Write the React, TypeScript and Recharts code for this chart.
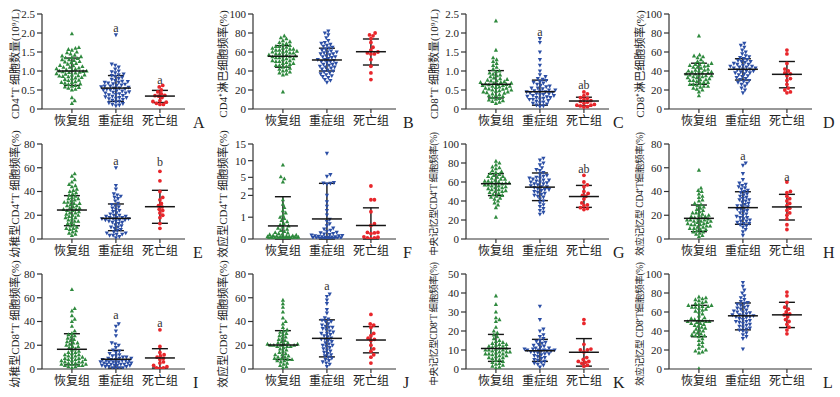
import React from 'react';
import { ScatterChart, Scatter, XAxis, YAxis, ErrorBar } from 'recharts';

const GROUPS = ['恢复组', '重症组', '死亡组'];
const COLORS = ['#2f8a3e', '#2b4ea5', '#e8262b'];

// A  CD4+T count
const aRecovery = [1.98, 1.62, 1.6, 1.57, 1.55, 1.5, 1.48, 1.45, 1.42, 1.4, 1.38, 1.35, 1.33, 1.3, 1.3, 1.28, 1.25, 1.22, 1.2, 1.18, 1.15, 1.12, 1.1, 1.1, 1.08, 1.05, 1.03, 1.0, 1.0, 0.98, 0.97, 0.95, 0.93, 0.92, 0.9, 0.88, 0.87, 0.85, 0.83, 0.82, 0.8, 0.78, 0.76, 0.75, 0.72, 0.7, 0.68, 0.66, 0.65, 0.62, 0.6, 0.58, 0.57, 0.55, 0.52, 0.5, 1.02, 1.06, 0.96, 1.14, 1.24, 0.9, 0.99, 1.36, 0.7, 0.86, 0.3, 0.22, 0.15];
const aSevere = [1.95, 1.18, 1.15, 1.1, 1.05, 1.0, 0.98, 0.95, 0.92, 0.9, 0.88, 0.85, 0.83, 0.8, 0.78, 0.75, 0.73, 0.72, 0.7, 0.68, 0.66, 0.65, 0.63, 0.62, 0.6, 0.58, 0.57, 0.55, 0.55, 0.53, 0.52, 0.5, 0.48, 0.47, 0.45, 0.44, 0.42, 0.4, 0.38, 0.37, 0.35, 0.33, 0.32, 0.3, 0.28, 0.27, 0.25, 0.23, 0.2, 0.18, 0.16, 0.14, 0.12, 0.1, 0.08, 0.6, 0.7, 0.5, 0.42, 0.3];
const aDeath = [0.62, 0.58, 0.5, 0.45, 0.4, 0.36, 0.35, 0.34, 0.3, 0.22, 0.2, 0.18, 0.15, 0.12, 0.12];
const aMean = [1.0, 0.55, 0.34];
const aHigh = [1.34, 0.88, 0.49];
const aLow = [0.62, 0.2, 0.17];

// B  CD4+ lymphocyte %
const bRecovery = [77, 75, 74, 72, 71, 70, 69, 68, 67, 66, 65, 64, 63, 62, 62, 61, 60, 60, 59, 58, 58, 57, 56, 56, 55, 55, 54, 53, 53, 52, 51, 50, 50, 49, 48, 47, 46, 45, 44, 43, 42, 41, 40, 39, 38, 37, 36, 63, 59, 57, 54, 51, 48, 46, 64, 66, 61, 18];
const bSevere = [82, 80, 78, 75, 72, 70, 69, 68, 67, 66, 65, 64, 63, 62, 61, 60, 59, 58, 57, 56, 55, 54, 53, 52, 52, 51, 50, 49, 48, 47, 46, 45, 44, 43, 42, 41, 40, 39, 38, 37, 36, 35, 34, 33, 31, 30, 28, 55, 50, 47, 44, 58, 60];
const bDeath = [80, 78, 77, 74, 70, 65, 62, 60, 59, 58, 58, 52, 45, 38, 31];
const bMean = [55.5, 51.6, 60.3];
const bHigh = [66.7, 64, 73.7];
const bLow = [44, 40, 46.3];

// C  CD8+T count
const cRecovery = [2.32, 1.55, 1.35, 1.3, 1.25, 1.2, 1.15, 1.1, 1.05, 1.0, 0.98, 0.95, 0.92, 0.9, 0.88, 0.85, 0.82, 0.8, 0.78, 0.76, 0.74, 0.72, 0.7, 0.68, 0.66, 0.65, 0.64, 0.62, 0.6, 0.58, 0.57, 0.55, 0.53, 0.52, 0.5, 0.48, 0.47, 0.45, 0.43, 0.42, 0.4, 0.38, 0.36, 0.35, 0.33, 0.3, 0.28, 0.26, 0.24, 0.22, 0.2, 0.18, 0.15, 0.6, 0.55, 0.7, 0.65, 0.5, 0.45, 0.62, 0.75, 0.68];
const cSevere = [1.85, 1.75, 1.5, 1.3, 1.15, 1.0, 0.9, 0.85, 0.8, 0.78, 0.75, 0.72, 0.7, 0.68, 0.65, 0.62, 0.6, 0.58, 0.55, 0.53, 0.5, 0.48, 0.47, 0.45, 0.44, 0.42, 0.4, 0.38, 0.37, 0.35, 0.33, 0.32, 0.3, 0.28, 0.26, 0.25, 0.22, 0.2, 0.18, 0.16, 0.15, 0.13, 0.1, 0.08, 0.06, 0.45, 0.4, 0.5, 0.35, 0.3, 0.55, 0.25];
const cDeath = [0.45, 0.4, 0.35, 0.3, 0.28, 0.25, 0.22, 0.2, 0.18, 0.15, 0.12, 0.1, 0.1, 0.08, 0.06, 0.05];
const cMean = [0.65, 0.455, 0.21];
const cHigh = [1.01, 0.76, 0.31];
const cLow = [0.29, 0.1, 0.08];

// D  CD8+ lymphocyte %
const dRecovery = [77, 57, 56, 55, 54, 52, 50, 49, 48, 47, 46, 45, 44, 43, 42, 41, 40, 40, 39, 38, 38, 37, 36, 36, 35, 34, 33, 33, 32, 31, 30, 30, 29, 28, 27, 26, 25, 24, 24, 23, 22, 21, 20, 18, 14, 35, 37, 41, 44, 31, 28, 39, 46, 26, 34, 47];
const dSevere = [69, 67, 65, 62, 60, 58, 56, 55, 54, 53, 52, 51, 50, 49, 48, 47, 46, 45, 45, 44, 43, 42, 42, 41, 40, 39, 38, 37, 36, 35, 34, 33, 32, 31, 30, 29, 28, 27, 26, 24, 22, 20, 17, 43, 40, 44, 47, 38, 50];
const dDeath = [62, 58, 48, 42, 40, 38, 37, 35, 32, 30, 26, 22, 20, 18, 17];
const dMean = [36.9, 41.8, 36.5];
const dHigh = [48.2, 52.9, 50];
const dLow = [25.9, 30.5, 22.3];

// E  naive CD4+T %
const eRecovery = [55, 53, 50, 48, 46, 45, 44, 42, 41, 40, 39, 38, 37, 36, 35, 34, 33, 32, 31, 30, 30, 29, 28, 27, 26, 25, 25, 24, 23, 22, 21, 20, 20, 19, 18, 17, 16, 15, 14, 13, 12, 11, 10, 9, 8, 7, 6, 5, 4, 3, 22, 26, 31, 18, 28, 34, 24, 15, 9];
const eSevere = [60, 45, 42, 38, 37, 36, 35, 34, 32, 30, 29, 28, 27, 26, 25, 24, 23, 22, 21, 20, 19, 18, 18, 17, 17, 16, 16, 15, 15, 14, 13, 12, 11, 10, 10, 9, 8, 7, 6, 5, 5, 4, 3, 3, 2, 1, 18, 20, 16, 14, 19, 17, 4];
const eDeath = [57, 49, 40, 35, 33, 30, 28, 27, 25, 24, 22, 20, 18, 13, 9];
const eMean = [24.4, 17.4, 27.2];
const eHigh = [36.5, 29.5, 41];
const eLow = [11.2, 7, 13.2];

// F  effector CD4+T % (broken axis)
const fRecovery = [8.7, 5.2, 4.6, 3.6, 1.8, 1.6, 1.45, 1.3, 1.2, 1.1, 1.0, 0.95, 0.85, 0.8, 0.72, 0.65, 0.6, 0.55, 0.5, 0.45, 0.4, 0.35, 0.3, 0.28, 0.25, 0.22, 0.2, 0.18, 0.16, 0.15, 0.14, 0.13, 0.12, 0.11, 0.1, 0.1, 0.09, 0.08, 0.08, 0.07, 0.07, 0.06, 0.06, 0.05, 0.05, 0.05, 0.04, 0.04, 0.03, 0.03, 0.02, 0.02, 0.01, 0.01];
const fSevere = [12.2, 5.8, 5.3, 3.4, 3.3, 3.2, 3.0, 2.0, 1.7, 1.5, 1.3, 1.1, 0.9, 0.8, 0.7, 0.6, 0.5, 0.45, 0.4, 0.35, 0.3, 0.28, 0.25, 0.22, 0.2, 0.18, 0.16, 0.15, 0.14, 0.12, 0.1, 0.1, 0.09, 0.08, 0.07, 0.06, 0.05, 0.05, 0.04, 0.03, 0.03, 0.02, 0.02, 0.01];
const fDeath = [2.4, 1.8, 1.8, 1.25, 0.7, 0.62, 0.3, 0.3, 0.28, 0.25, 0.1, 0.08, 0.05, 0.05, 0.02];
const fMean = [0.6, 0.92, 0.62];
const fHigh = [1.94, 3.2, 1.43];
const fLow = [0, 0, 0];

// G  central memory CD4+T %
const gRecovery = [82, 80, 78, 76, 75, 74, 72, 71, 70, 69, 68, 67, 66, 65, 64, 63, 62, 61, 60, 60, 59, 58, 58, 57, 56, 56, 55, 54, 53, 52, 51, 50, 49, 48, 47, 46, 45, 44, 43, 42, 40, 38, 36, 33, 23, 57, 61, 54, 63, 59, 50, 66, 52];
const gSevere = [85, 83, 80, 78, 75, 73, 72, 70, 68, 67, 66, 65, 64, 63, 62, 61, 60, 59, 58, 57, 56, 55, 54, 53, 52, 51, 50, 49, 48, 47, 46, 45, 44, 42, 40, 38, 36, 34, 32, 30, 28, 26, 62, 58, 55, 64, 60, 52];
const gDeath = [67, 60, 57, 55, 50, 48, 46, 45, 42, 38, 36, 35, 33, 32, 31];
const gMean = [58.2, 54.6, 44.7];
const gHigh = [68.8, 69.5, 56.4];
const gLow = [45.7, 40.4, 33.3];

// H  effector memory CD4+T %
const hRecovery = [58, 43, 41, 40, 38, 36, 35, 33, 32, 30, 29, 28, 27, 26, 25, 24, 23, 22, 21, 20, 20, 19, 18, 18, 17, 16, 16, 15, 15, 14, 14, 13, 12, 12, 11, 10, 10, 9, 8, 8, 7, 6, 6, 5, 4, 3, 2, 16, 13, 19, 11, 22, 15, 9, 17, 12];
const hSevere = [64, 62, 55, 50, 47, 46, 45, 44, 43, 42, 41, 40, 39, 38, 37, 36, 35, 34, 33, 32, 31, 30, 29, 28, 27, 26, 25, 24, 23, 22, 21, 20, 19, 18, 17, 16, 15, 14, 13, 12, 11, 10, 8, 6, 3, 25, 28, 18, 15, 13, 33];
const hDeath = [48, 40, 39, 36, 34, 32, 30, 28, 26, 24, 22, 20, 17, 12, 8];
const hMean = [17.4, 26.4, 27];
const hHigh = [28.6, 39.8, 37.6];
const hLow = [6.2, 12.4, 16];

// I  naive CD8+T %
const iRecovery = [67, 51, 49, 45, 42, 40, 36, 32, 30, 29, 28, 27, 26, 25, 24, 23, 22, 21, 20, 19, 18, 17, 16, 15, 14, 13, 12, 12, 11, 10, 10, 9, 9, 8, 8, 7, 7, 6, 6, 5, 5, 4, 4, 3, 3, 2, 2, 1, 14, 11, 19, 6, 8, 4, 22, 3];
const iSevere = [38, 36, 32, 28, 22, 21, 20, 18, 16, 15, 14, 13, 12, 11, 10, 10, 9, 9, 8, 8, 8, 7, 7, 7, 6, 6, 6, 5, 5, 5, 4, 4, 4, 3, 3, 3, 2, 2, 2, 1, 1, 1, 0.5, 9, 6, 4, 7, 5, 3, 11];
const iDeath = [33, 19, 14, 12, 11, 10, 9, 8, 6, 5, 3, 2, 1, 1, 0.5];
const iMean = [16.6, 8.2, 9.3];
const iHigh = [29.7, 15.7, 17.1];
const iLow = [3.5, 0.7, 0.8];

// J  effector CD8+T %
const jRecovery = [58, 55, 52, 48, 43, 40, 38, 35, 33, 32, 31, 30, 29, 28, 27, 26, 25, 24, 23, 22, 21, 21, 20, 20, 20, 19, 19, 18, 17, 16, 15, 14, 13, 12, 11, 10, 10, 9, 8, 7, 7, 6, 5, 4, 3, 2, 1, 21, 20, 19, 8, 9, 12, 22];
const jSevere = [63, 61, 58, 55, 50, 47, 43, 42, 41, 40, 38, 37, 36, 35, 34, 33, 32, 31, 30, 29, 28, 27, 26, 25, 24, 23, 22, 21, 20, 19, 18, 17, 16, 15, 14, 13, 12, 11, 10, 9, 8, 7, 6, 5, 4, 2, 30, 25, 20, 35, 40];
const jDeath = [46, 38, 37, 35, 30, 28, 26, 25, 24, 20, 17, 15, 12, 10, 5];
const jMean = [20.2, 25.8, 24.4];
const jHigh = [32.3, 41.4, 35.7];
const jLow = [7.9, 10.2, 13.6];

// K  central memory CD8+T %
const kRecovery = [38.5, 34, 30, 27, 26, 25, 22, 20, 19, 18, 17, 16, 15, 14.5, 14, 13.5, 13, 12.5, 12, 11.5, 11, 10.5, 10, 10, 9.5, 9, 9, 8.5, 8, 8, 7.5, 7, 7, 6.5, 6, 5.5, 5, 4.5, 4, 3.5, 3, 2.5, 2, 1.5, 1, 0.5, 10, 12, 8, 11, 9, 13, 6];
const kSevere = [33, 26, 21, 20, 18, 17, 16, 15, 14.5, 14, 13.5, 13, 12.5, 12, 11.5, 11, 10.5, 10, 10, 10, 9.5, 9.5, 9, 9, 8.5, 8, 7.5, 7, 6.5, 6, 5.5, 5, 4.5, 4, 3.5, 3, 2.5, 2, 1, 10, 10.5, 9.5, 11, 8];
const kDeath = [26, 24, 13, 10.5, 10, 10, 9, 6, 5, 4, 4, 3.5, 3, 2, 1.5];
const kMean = [10.8, 9.6, 8.8];
const kHigh = [18.2, 15.6, 16];
const kLow = [4, 4, 1.5];

// L  effector memory CD8+T %
const lRecovery = [76, 75, 74, 73, 72, 71, 70, 69, 68, 67, 66, 65, 64, 63, 62, 61, 60, 58, 56, 54, 53, 52, 51, 50, 50, 49, 48, 47, 46, 45, 44, 43, 42, 41, 40, 39, 38, 37, 36, 35, 34, 32, 30, 28, 26, 24, 22, 20, 19, 18, 17, 0.5, 50, 52, 48, 66, 67, 35, 65];
const lSevere = [91, 87, 83, 80, 77, 75, 73, 71, 70, 69, 68, 67, 66, 65, 64, 63, 62, 61, 60, 59, 58, 57, 56, 55, 54, 53, 52, 51, 50, 49, 48, 47, 46, 45, 44, 43, 42, 41, 40, 38, 36, 34, 32, 21, 56, 55, 57, 50, 60];
const lDeath = [81, 77, 70, 65, 63, 60, 58, 57, 55, 52, 50, 47, 44, 41, 37];
const lMean = [50.7, 56, 57];
const lHigh = [67, 69.5, 70.2];
const lLow = [34, 41.2, 43.6];

const countTicks = [0, 0.5, 1, 1.5, 2, 2.5];
const pct100Ticks = [0, 20, 40, 60, 80, 100];
const pct80Ticks = [0, 20, 40, 60, 80];
const pct50Ticks = [0, 10, 20, 30, 40, 50];
const fTicks = [0, 1, 2, 5, 10, 15];

// broken axis on F: 0-2 linear, then compressed 2-15 above a small gap
const fBreak = (v: number) => (v <= 2 ? v : 2.37 + (v - 2) * 0.153);
const same = (v: number) => v;

type Sig = { g: number; y: number; t: string };

const panels = [
  { id: 'A', title: 'CD4⁺T 细胞数量(10⁹/L)', max: 2.5, ticks: countTicks, dec: true, data: [aRecovery, aSevere, aDeath], mean: aMean, high: aHigh, low: aLow, sig: [{ g: 2, y: 2.13, t: 'a' }, { g: 3, y: 0.76, t: 'a' }] },
  { id: 'B', title: 'CD4⁺淋巴细胞频率(%)', max: 100, ticks: pct100Ticks, data: [bRecovery, bSevere, bDeath], mean: bMean, high: bHigh, low: bLow, sig: [] },
  { id: 'C', title: 'CD8⁺T 细胞数量(10⁹/L)', max: 2.5, ticks: countTicks, dec: true, data: [cRecovery, cSevere, cDeath], mean: cMean, high: cHigh, low: cLow, sig: [{ g: 2, y: 2.03, t: 'a' }, { g: 3, y: 0.63, t: 'ab' }] },
  { id: 'D', title: 'CD8⁺淋巴细胞频率(%)', max: 100, ticks: pct100Ticks, data: [dRecovery, dSevere, dDeath], mean: dMean, high: dHigh, low: dLow, sig: [] },
  { id: 'E', title: '幼稚型CD4⁺T 细胞频率(%)', max: 80, ticks: pct80Ticks, data: [eRecovery, eSevere, eDeath], mean: eMean, high: eHigh, low: eLow, sig: [{ g: 2, y: 66, t: 'a' }, { g: 3, y: 65, t: 'b' }] },
  { id: 'F', title: '效应型CD4⁺T 细胞频率(%)', max: 15, ticks: fTicks, tf: fBreak, data: [fRecovery, fSevere, fDeath], mean: fMean, high: fHigh, low: fLow, sig: [] },
  { id: 'G', title: '中央记忆型CD4⁺T 细胞频率(%)', max: 100, ticks: pct100Ticks, data: [gRecovery, gSevere, gDeath], mean: gMean, high: gHigh, low: gLow, sig: [{ g: 3, y: 74, t: 'ab' }] },
  { id: 'H', title: '效应记忆型 CD4⁺T细胞频率(%)', max: 80, ticks: pct80Ticks, data: [hRecovery, hSevere, hDeath], mean: hMean, high: hHigh, low: hLow, sig: [{ g: 2, y: 70, t: 'a' }, { g: 3, y: 52, t: 'a' }] },
  { id: 'I', title: '幼稚型CD8⁺T 细胞频率(%)', max: 80, ticks: pct80Ticks, data: [iRecovery, iSevere, iDeath], mean: iMean, high: iHigh, low: iLow, sig: [{ g: 2, y: 45.5, t: 'a' }, { g: 3, y: 38.7, t: 'a' }] },
  { id: 'J', title: '效应型CD8⁺T 细胞频率(%)', max: 80, ticks: pct80Ticks, data: [jRecovery, jSevere, jDeath], mean: jMean, high: jHigh, low: jLow, sig: [{ g: 2, y: 70, t: 'a' }] },
  { id: 'K', title: '中央记忆型CD8⁺T 细胞频率(%)', max: 50, ticks: pct50Ticks, data: [kRecovery, kSevere, kDeath], mean: kMean, high: kHigh, low: kLow, sig: [] },
  { id: 'L', title: '效应记忆型 CD8⁺T细胞频率(%)', max: 100, ticks: pct100Ticks, data: [lRecovery, lSevere, lDeath], mean: lMean, high: lHigh, low: lLow, sig: [] },
];

const COL_LEFT = [42, 43, 46, 39];
const LABEL_X = [14, 12, 13, 9];
const PLOT_W = 143;
const PLOT_H = 95;
const X_MIN = 0.32;
const X_MAX = 3.57;
const SERIF = "'Liberation Serif', 'Noto Sans CJK SC', serif";

// greedy beeswarm: returns horizontal pixel offsets for values given in pixels
function swarm(ys: number[], dia: number, step: number, maxOff: number) {
  const order = ys.map((_, i) => i).sort((a, b) => ys[a] - ys[b]);
  const placed: { x: number; y: number }[] = [];
  const out = new Array(ys.length).fill(0);
  const n = Math.floor(maxOff / step);
  for (const i of order) {
    const y = ys[i];
    let best = 0;
    let bestD = -1;
    for (let k = 0; k <= 2 * n; k++) {
      const x = k === 0 ? 0 : (k % 2 ? 1 : -1) * Math.ceil(k / 2) * step;
      let md = Infinity;
      for (const p of placed) {
        if (Math.abs(p.y - y) < dia) {
          const d = Math.hypot(p.x - x, p.y - y);
          if (d < md) md = d;
        }
      }
      if (md >= dia) { best = x; bestD = md; break; }
      if (md > bestD) { bestD = md; best = x; }
    }
    placed.push({ x: best, y });
    out[i] = best;
  }
  return out;
}

const markers = [
  (c: string) => (p: any) => <path d={`M${p.cx},${p.cy - 2.3}L${p.cx + 2.1},${p.cy + 1.6}L${p.cx - 2.1},${p.cy + 1.6}Z`} fill={c} />,
  (c: string) => (p: any) => <path d={`M${p.cx},${p.cy + 2.3}L${p.cx + 2.1},${p.cy - 1.6}L${p.cx - 2.1},${p.cy - 1.6}Z`} fill={c} />,
  (c: string) => (p: any) => <circle cx={p.cx} cy={p.cy} r={1.9} fill={c} />,
];

const meanShape = (p: any) => (
  <line x1={p.cx - 15} x2={p.cx + 15} y1={p.cy} y2={p.cy} stroke="#151515" strokeWidth={1.5} />
);

const sigShape = (p: any) => (
  <text x={p.cx} y={p.cy} textAnchor="middle" dominantBaseline="central" fontSize={12} fontFamily={SERIF} fill="#333">
    {p.payload.t}
  </text>
);

function Panel({ p, col, row }: { p: any; col: number; row: number }) {
  const tf: (v: number) => number = p.tf || same;
  const top = tf(p.max);
  const pxPerUnit = PLOT_H / top;
  const xUnit = PLOT_W / (X_MAX - X_MIN);
  const left = COL_LEFT[col];

  const series = p.data.map((vals: number[], g: number) => {
    const ty = vals.map(tf);
    const offs = swarm(ty.map((v) => v * pxPerUnit), 3.5, 0.7, 16);
    return ty.map((y, k) => ({ x: g + 1 + offs[k] / xUnit, y }));
  });
  const stats = p.mean.map((m: number, g: number) => ({
    x: g + 1,
    y: tf(m),
    err: [tf(m) - tf(p.low[g]), tf(p.high[g]) - tf(m)],
  }));
  const sig = (p.sig as Sig[]).map((s) => ({ x: s.g, y: tf(s.y), t: s.t }));

  const yTicks = p.id === 'F' ? [...p.ticks.map(tf), 2.3] : p.ticks.map(tf);
  const fmtY = (v: number) => {
    const i = p.ticks.findIndex((t: number) => Math.abs(tf(t) - v) < 1e-6);
    if (i < 0) return '';
    const t = p.ticks[i];
    return p.dec && t !== 0 ? t.toFixed(1) : String(t);
  };
  const longTitle = p.title.includes('记忆');

  return (
    <div style={{ position: 'absolute', left: col * 210, top: row * 130, width: 210, height: 132 }}>
      <ScatterChart
        width={210}
        height={132}
        margin={{ top: 14, right: 210 - left - PLOT_W, bottom: 0, left: left - 30 }}
      >
        <XAxis
          type="number"
          dataKey="x"
          domain={[X_MIN, X_MAX]}
          ticks={[1, 2, 3]}
          interval={0}
          allowDataOverflow
          height={23}
          tickSize={4}
          tickMargin={3}
          tickFormatter={(v: number) => GROUPS[Math.round(v) - 1]}
          stroke="#333"
          strokeWidth={1.2}
          tick={{ fontSize: 12, fill: '#222', fontFamily: SERIF }}
        />
        <YAxis
          type="number"
          dataKey="y"
          domain={[0, top]}
          ticks={yTicks}
          interval={0}
          allowDataOverflow
          width={30}
          tickSize={5}
          tickMargin={2}
          tickFormatter={fmtY}
          stroke="#333"
          strokeWidth={1.2}
          tick={{ fontSize: 11, fill: '#222', fontFamily: SERIF }}
        />
        {series.map((pts: any[], g: number) => (
          <Scatter key={g} data={pts} shape={markers[g](COLORS[g])} isAnimationActive={false} />
        ))}
        <Scatter data={stats} shape={meanShape} isAnimationActive={false}>
          <ErrorBar dataKey="err" direction="y" width={8} stroke="#151515" strokeWidth={1.4} isAnimationActive={false} />
        </Scatter>
        {sig.length > 0 && <Scatter data={sig} shape={sigShape} isAnimationActive={false} />}
      </ScatterChart>
      <div
        style={{
          position: 'absolute',
          left: LABEL_X[col],
          top: 64,
          transform: 'translate(-50%, -50%) rotate(-90deg)',
          whiteSpace: 'nowrap',
          fontSize: longTitle ? 9.5 : 11,
          letterSpacing: longTitle ? -0.3 : 0,
          fontFamily: SERIF,
          color: '#222',
        }}
      >
        {p.title}
      </div>
      <div style={{ position: 'absolute', left: 193, top: 113, fontSize: 16, fontFamily: SERIF, color: '#222', lineHeight: '20px' }}>
        {p.id}
      </div>
    </div>
  );
}

export default function App() {
  return (
    <div style={{ position: 'absolute', left: 0, top: 0, width: 840, height: 397, background: '#fff', overflow: 'hidden' }}>
      {panels.map((p, i) => (
        <Panel key={p.id} p={p} col={i % 4} row={Math.floor(i / 4)} />
      ))}
    </div>
  );
}
